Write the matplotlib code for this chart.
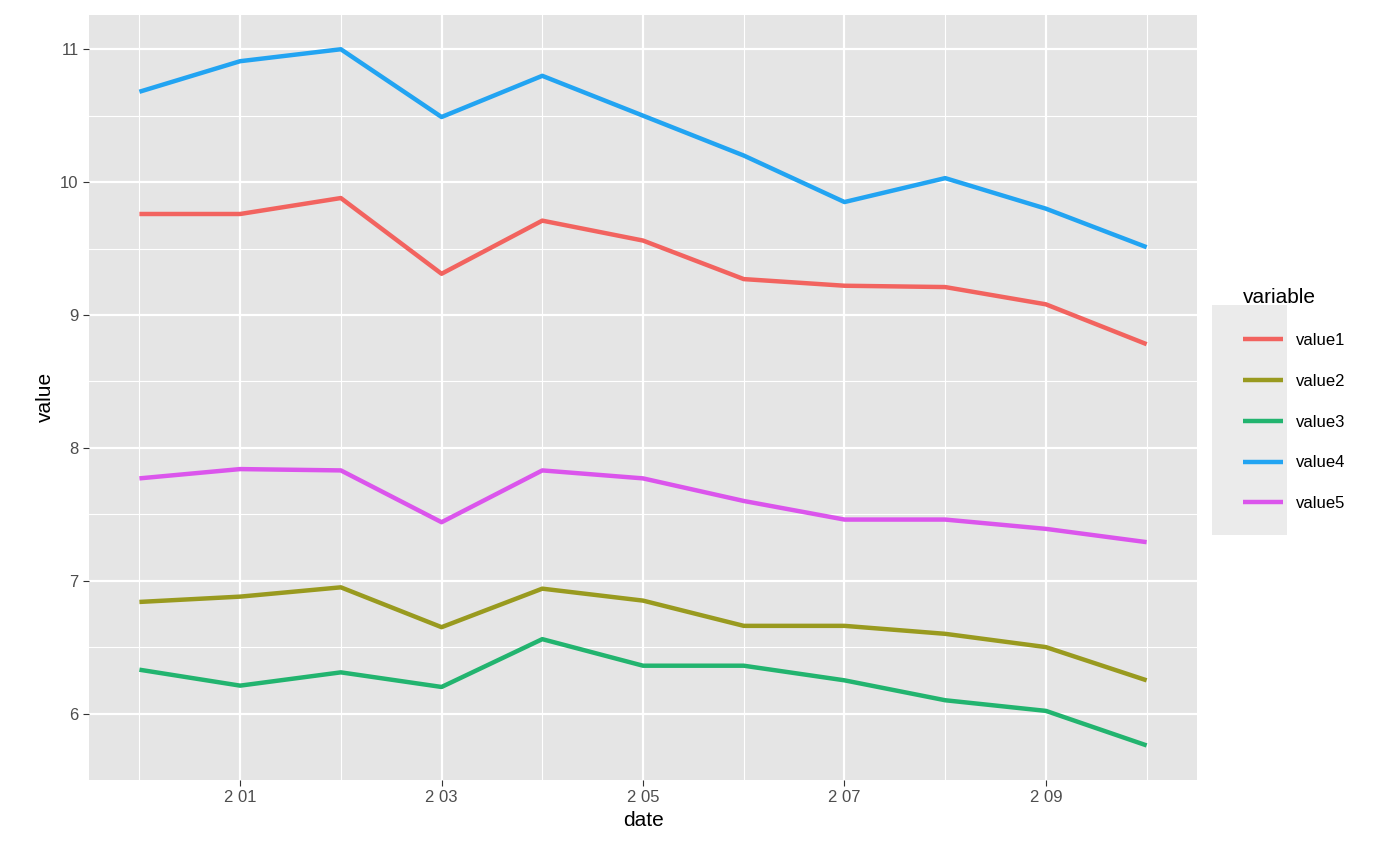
import matplotlib.pyplot as plt
from matplotlib.patches import Rectangle
import numpy as np

dates = np.arange(11)
tick_idx = [1, 3, 5, 7, 9]
tick_labels = ['2 01', '2 03', '2 05', '2 07', '2 09']

value1 = [9.76, 9.76, 9.88, 9.31, 9.71, 9.56, 9.27, 9.22, 9.21, 9.08, 8.78]
value2 = [6.84, 6.88, 6.95, 6.65, 6.94, 6.85, 6.66, 6.66, 6.60, 6.50, 6.25]
value3 = [6.33, 6.21, 6.31, 6.20, 6.56, 6.36, 6.36, 6.25, 6.10, 6.02, 5.76]
value4 = [10.68, 10.91, 11.0, 10.49, 10.80, 10.50, 10.20, 9.85, 10.03, 9.80, 9.51]
value5 = [7.77, 7.84, 7.83, 7.44, 7.83, 7.77, 7.60, 7.46, 7.46, 7.39, 7.29]

series = [('value1', value1, '#F2635F'), ('value2', value2, '#999A1F'),
          ('value3', value3, '#22B46F'), ('value4', value4, '#22A4F2'),
          ('value5', value5, '#DB55EC')]

plt.rcParams['font.family'] = ['Liberation Sans', 'DejaVu Sans']

fig = plt.figure(figsize=(14, 8.65), dpi=100)
ax = fig.add_axes([0.0636, 0.0983, 0.7914, 0.8847])
ax.set_facecolor('#E5E5E5')

lines = []
for name, vals, col in series:
    ln, = ax.plot(dates, vals, color=col, linewidth=3.2, label=name, solid_capstyle='butt')
    lines.append(ln)

ax.set_xlim(-0.5, 10.5)
ax.set_ylim(5.5, 11.26)
ax.set_xticks(tick_idx)
ax.set_xticklabels(tick_labels)
ax.set_xticks([0, 2, 4, 6, 8, 10], minor=True)
ax.set_yticks([6, 7, 8, 9, 10, 11])
ax.set_yticks([6.5, 7.5, 8.5, 9.5, 10.5], minor=True)
ax.grid(which='major', color='white', linewidth=1.6)
ax.grid(which='minor', color='white', linewidth=0.8)
ax.set_axisbelow(True)
for s in ax.spines.values():
    s.set_visible(False)
ax.tick_params(which='major', length=4, color='#333333', labelsize=12, labelcolor='#4D4D4D')
ax.tick_params(which='minor', length=0)
ax.set_xlabel('date', fontsize=15)
ax.set_ylabel('value', fontsize=15)

# gray key background like ggplot legend keys
fig.patches.append(Rectangle((1212 / 1400, 1 - 535 / 865), 75 / 1400, 230 / 865,
                             transform=fig.transFigure, facecolor='#EBEBEB',
                             edgecolor='none', zorder=0))

leg = fig.legend(handles=lines, loc='center left', bbox_to_anchor=(0.877, 0.538),
                 title='variable', fontsize=12, title_fontsize=15, frameon=False,
                 handlelength=2.4, labelspacing=1.55, alignment='left')
plt.savefig('out.png', dpi=100)
